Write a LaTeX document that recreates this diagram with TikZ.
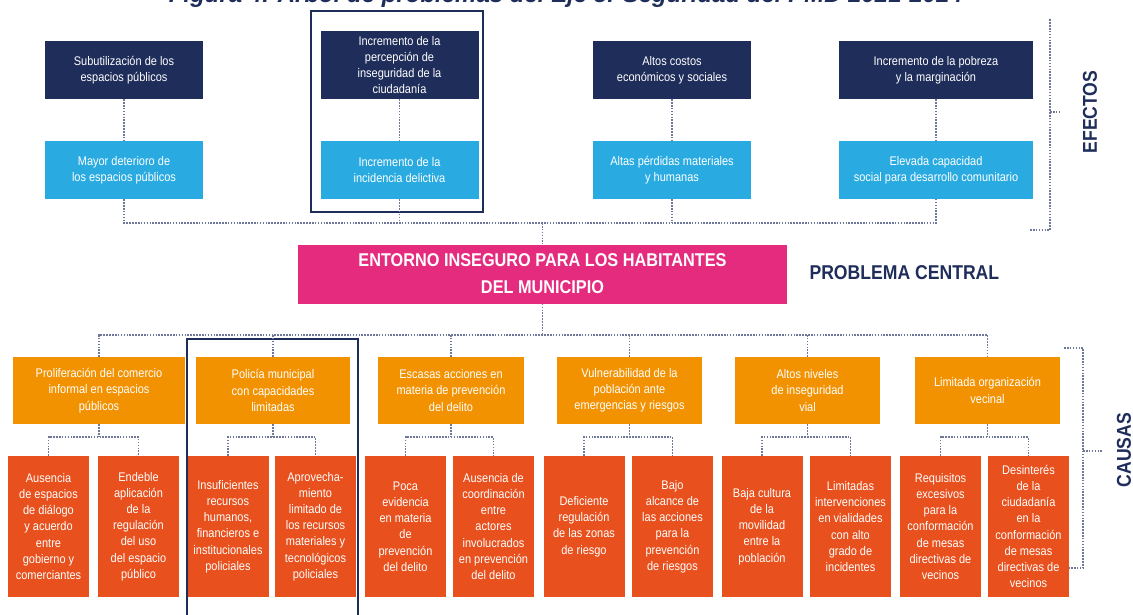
\documentclass[tikz,border=0pt]{standalone}
\usepackage{fontspec}
\setmainfont{Liberation Sans}[FakeStretch=0.88]
\newfontfamily\fuentetitulo{Liberation Sans}
\usepackage{tikz}
\usetikzlibrary{positioning,calc}
\definecolor{marino}{HTML}{1F2D5B}
\definecolor{celeste}{HTML}{29ABE2}
\definecolor{rosa}{HTML}{E52B7E}
\definecolor{naranja}{HTML}{F39200}
\definecolor{rojizo}{HTML}{E8501D}
\definecolor{puntos}{HTML}{6F7899}
\tikzset{
  caja/.style={text=white, align=center, inner sep=2pt, font=\fontsize{12.5}{16.2}\selectfont},
  oscuro/.style={caja, fill=marino, minimum width=158pt, minimum height=58pt},
  claro/.style={caja, fill=celeste, minimum width=158pt, minimum height=58pt},
  causa/.style={caja, fill=naranja, minimum height=67pt},
  subcausa/.style={caja, fill=rojizo, minimum width=81pt, minimum height=141pt},
  central/.style={fill=rosa, text=white, align=center, font=\bfseries\fontsize{18.5}{27}\selectfont},
  etiqueta/.style={text=marino, font=\bfseries\fontsize{20}{20}\selectfont},
  enlace/.style={puntos, dash pattern=on 1.6pt off 1.3pt, line width=1.8pt},
  marco/.style={marino, line width=1.7pt},
}
\begin{document}
\begin{tikzpicture}[x=1pt,y=-1pt]
\useasboundingbox (0,0) rectangle (1133,615);
\clip (0,0) rectangle (1133,615);
\node[text=marino, anchor=base, font=\fuentetitulo\bfseries\itshape\fontsize{24}{24}\selectfont] (titulo) at (566,3) {Figura 4. Árbol de problemas del Eje 5. Seguridad del PMD 2021-2024};
% efectos
\node[oscuro] (d1) at (124,70) {Subutilización de los\\espacios públicos};
\node[oscuro, minimum height=68pt] (d2) at (399.5,65) {Incremento de la\\percepción de\\inseguridad de la\\ciudadanía};
\node[oscuro] (d3) at (672,70) {Altos costos\\económicos y sociales};
\node[oscuro, minimum width=194pt] (d4) at (936,70) {Incremento de la pobreza\\y la marginación};
\node[claro] (l1) at (124,170) {Mayor deterioro de\\los espacios públicos};
\node[claro] (l2) at (399.5,170) {Incremento de la\\incidencia delictiva};
\node[claro] (l3) at (672,170) {Altas pérdidas materiales\\y humanas};
\node[claro, minimum width=194pt] (l4) at (936,170) {Elevada capacidad\\social para desarrollo comunitario};
\draw[marco] (311,11) rectangle (483,212);
\node[etiqueta, rotate=90] (efectos) at (1090,112) {EFECTOS};
\draw[enlace] (1030,230) -- (1050,230) -- (1050,18);
\draw[enlace] (1050,112) -- (1061,112);
% problema central
\node[central, minimum width=489pt, minimum height=59pt] (pc) at (542.5,274) {ENTORNO INSEGURO PARA LOS HABITANTES\\DEL MUNICIPIO};
\node[etiqueta, anchor=west] (pctexto) at (806,273) {PROBLEMA CENTRAL};
% causas
\node[causa, minimum width=172pt] (c1) at (99,390.5) {Proliferación del comercio\\informal en espacios\\públicos};
\node[causa, minimum width=154pt] (c2) at (273,390.5) {Policía municipal\\con capacidades\\limitadas};
\node[causa, minimum width=146pt] (c3) at (451,390.5) {Escasas acciones en\\materia de prevención\\del delito};
\node[causa, minimum width=145pt] (c4) at (629.5,390.5) {Vulnerabilidad de la\\población ante\\emergencias y riesgos};
\node[causa, minimum width=145pt] (c5) at (807.5,390.5) {Altos niveles\\de inseguridad\\vial};
\node[causa, minimum width=145pt] (c6) at (987.5,390.5) {Limitada organización\\vecinal};
\node[subcausa] (s1) at (48.5,526.5) {Ausencia\\de espacios\\de diálogo\\y acuerdo\\entre\\gobierno y\\comerciantes};
\node[subcausa] (s2) at (138.5,526.5) {Endeble\\aplicación\\de la\\regulación\\del uso\\del espacio\\público};
\node[subcausa] (s3) at (228,526.5) {Insuficientes\\recursos\\humanos,\\financieros e\\institucionales\\policiales};
\node[subcausa] (s4) at (315.5,526.5) {Aprovecha-\\miento\\limitado de\\los recursos\\materiales y\\tecnológicos\\policiales};
\node[subcausa] (s5) at (405.5,526.5) {Poca\\evidencia\\en materia\\de\\prevención\\del delito};
\node[subcausa] (s6) at (493.5,526.5) {Ausencia de\\coordinación\\entre\\actores\\involucrados\\en prevención\\del delito};
\node[subcausa] (s7) at (584,526.5) {Deficiente\\regulación\\de las zonas\\de riesgo};
\node[subcausa] (s8) at (672.5,526.5) {Bajo\\alcance de\\las acciones\\para la\\prevención\\de riesgos};
\node[subcausa] (s9) at (762,526.5) {Baja cultura\\de la\\movilidad\\entre la\\población};
\node[subcausa] (s10) at (850.5,526.5) {Limitadas\\intervenciones\\en vialidades\\con alto\\grado de\\incidentes};
\node[subcausa] (s11) at (940.5,526.5) {Requisitos\\excesivos\\para la\\conformación\\de mesas\\directivas de\\vecinos};
\node[subcausa] (s12) at (1028.5,526.5) {Desinterés\\de la\\ciudadanía\\en la\\conformación\\de mesas\\directivas de\\vecinos};
\draw[marco] (187,339) rectangle (358,625);
\node[etiqueta, rotate=90] (causas) at (1124,450) {CAUSAS};
\draw[enlace] (1064,348) -- (1083,348) -- (1083,568) -- (1069,568);
\draw[enlace] (1083,451) -- (1102,451);
% conectores
\coordinate (ej) at (542.5,223);
\coordinate (cj) at (542.5,335);
\draw[enlace] (d1) -- (l1);
\draw[enlace] (d2) -- (l2);
\draw[enlace] (d3) -- (l3);
\draw[enlace] (d4) -- (l4);
\draw[enlace] (l1.south) -- (l1.south |- ej) -- (l4.south |- ej) -- (l4.south);
\draw[enlace] (l2.south) -- (l2.south |- ej);
\draw[enlace] (l3.south) -- (l3.south |- ej);
\draw[enlace] (ej) -- (pc.north);
\draw[enlace] (pc.south) -- (cj);
\draw[enlace] (c1.north) -- (c1.north |- cj) -- (c6.north |- cj) -- (c6.north);
\foreach \c in {c2,c3,c4,c5}
  \draw[enlace] (\c.north) -- (\c.north |- cj);
\foreach \c/\a/\b in {c1/s1/s2, c2/s3/s4, c3/s5/s6, c4/s7/s8, c5/s9/s10, c6/s11/s12} {
  \draw[enlace] (\c.south) -- ++(0,13) coordinate (j);
  \draw[enlace] (\a.north) -- (\a.north |- j) -- (\b.north |- j) -- (\b.north);
}
\end{tikzpicture}
\end{document}
